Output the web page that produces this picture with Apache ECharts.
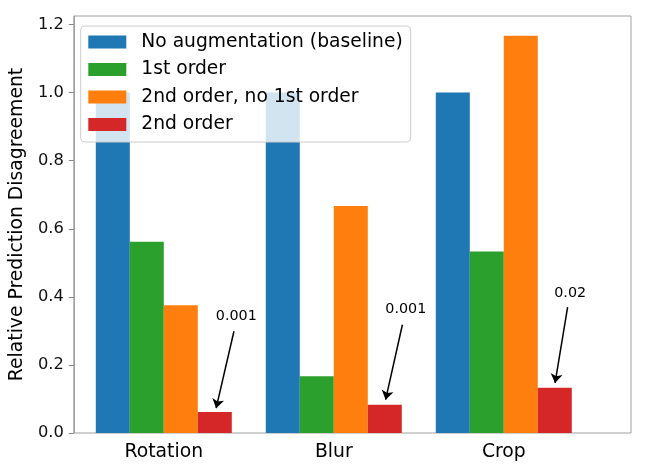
<!DOCTYPE html>
<html>
<head>
<meta charset="utf-8">
<script src="https://cdn.jsdelivr.net/npm/echarts@6/dist/echarts.min.js"></script>
<style>html,body{margin:0;padding:0;background:#fff}#c{width:648px;height:474px}</style>
</head>
<body>
<div id="c"></div>
<script>
const categories = ['Rotation', 'Blur', 'Crop'];
const seriesNames = ['No augmentation (baseline)', '1st order', '2nd order, no 1st order', '2nd order'];
const baseline = [1.0, 1.0, 1.0];
const firstOrder = [0.562, 0.167, 0.533];
const secondNoFirst = [0.375, 0.667, 1.167];
const secondOrder = [0.062, 0.083, 0.133];
const yTickValues = [0, 0.2, 0.4, 0.6, 0.8, 1.0, 1.2];
const annTexts = ['0.001', '0.001', '0.02'];
const annTextX = [0.419, 1.419, 2.389];
const annTextY = [0.343, 0.362, 0.411];
const arrowFromX = [0.405, 1.399, 2.374];
const arrowFromY = [0.299, 0.318, 0.370];
const arrowToX = [0.300, 1.300, 2.300];
const arrowToY = [0.073, 0.098, 0.147];

const colors = ['#1f77b4', '#2ca02c', '#ff7f0e', '#d62728'];
const values = [baseline, firstOrder, secondNoFirst, secondOrder];
const FONT = 'DejaVu Sans';
const YMAX = 1.225;

const chart = echarts.init(document.getElementById('c'), null, {renderer: 'canvas'});

const barSeries = seriesNames.map((n, k) => ({
  name: n, type: 'bar', xAxisIndex: 1, yAxisIndex: 1,
  data: values[k], barWidth: 34, barGap: '0%',
  itemStyle: {color: colors[k]},
  emphasis: {disabled: true}
}));

const option = {
  animation: false,
  textStyle: {fontFamily: FONT},
  grid: [
    {left: 72, right: 17, top: 16, bottom: 41, show: true, borderColor: '#a0a0a0', borderWidth: 1, backgroundColor: 'transparent'},
    {left: 78.8, right: 59.2, top: 16, bottom: 41}
  ],
  legend: {
    data: seriesNames, orient: 'vertical', left: 80.7, top: 26,
    icon: 'rect', itemWidth: 38, itemHeight: 13, itemGap: 8.5,
    padding: [6.5, 8, 8, 7.6],
    backgroundColor: 'rgba(255,255,255,0.8)', borderColor: '#cccccc', borderWidth: 1, borderRadius: 4,
    textStyle: {fontSize: 18.7, color: '#000', fontFamily: FONT, padding: [0, 0, 0, 10]},
    selectedMode: false
  },
  xAxis: [
    {gridIndex: 0, type: 'value', min: -0.54, max: 2.748, show: false},
    {gridIndex: 1, type: 'category', data: categories,
     axisLine: {show: false}, axisTick: {show: false},
     axisLabel: {fontSize: 18.8, color: '#000', margin: 10, fontFamily: FONT}}
  ],
  yAxis: [
    {gridIndex: 0, type: 'value', min: 0, max: YMAX,
     name: 'Relative Prediction Disagreement', nameLocation: 'middle', nameGap: 45, nameRotate: 90,
     nameTextStyle: {fontSize: 18.8, color: '#000', fontFamily: FONT},
     axisLine: {show: true, onZero: false, lineStyle: {color: '#a0a0a0', width: 1}},
     axisTick: {show: true, length: 5, lineStyle: {color: '#888'}, customValues: yTickValues},
     axisLabel: {fontSize: 16.3, color: '#111', margin: 10, fontFamily: FONT, customValues: yTickValues,
                 formatter: v => v.toFixed(1)},
     splitLine: {show: false}},
    {gridIndex: 1, type: 'value', min: 0, max: YMAX, show: false}
  ],
  series: barSeries.concat([
    {
      type: 'lines', coordinateSystem: 'cartesian2d', xAxisIndex: 0, yAxisIndex: 0,
      symbol: ['none', 'arrow'], symbolSize: [4, 9],
      lineStyle: {color: '#000', width: 1.5, opacity: 1},
      data: annTexts.map((t, i) => ({coords: [[arrowFromX[i], arrowFromY[i]], [arrowToX[i], arrowToY[i]]]})),
      z: 5
    },
    {
      type: 'scatter', xAxisIndex: 0, yAxisIndex: 0, symbolSize: 1,
      itemStyle: {color: 'rgba(0,0,0,0)'},
      label: {show: true, position: 'inside', formatter: '{b}', fontSize: 14.3, color: '#000', opacity: 1, fontFamily: FONT},
      data: annTexts.map((t, i) => ({name: t, value: [annTextX[i], annTextY[i]]})),
      z: 5
    }
  ])
};
chart.setOption(option);
</script>
</body>
</html>
